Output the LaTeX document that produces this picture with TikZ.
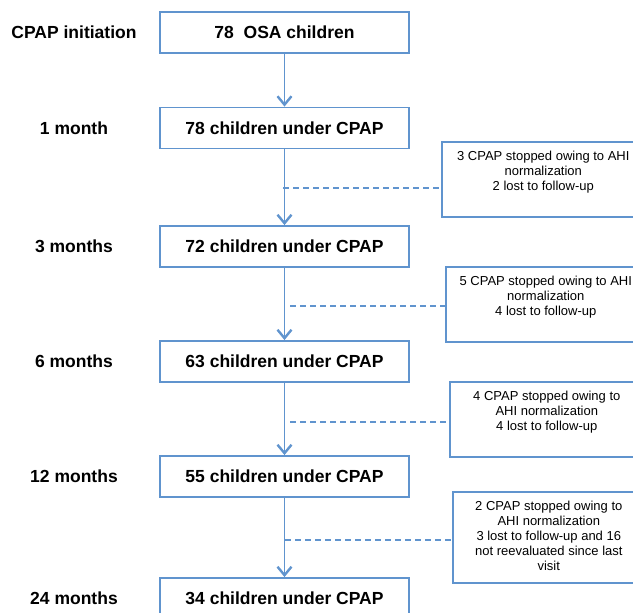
\documentclass[tikz,border=0pt]{standalone}
\usepackage{fontspec}
\setmainfont{Liberation Sans}
\usetikzlibrary{arrows.meta}
\definecolor{fblue}{RGB}{96,148,206}
\begin{document}
\begin{tikzpicture}[x=1pt,y=-1pt,
  mainbox/.style={draw=fblue,line width=1.8pt,minimum width=249pt,minimum height=41pt,inner sep=0pt,
    font=\fontsize{17.5}{20}\selectfont\bfseries},
  lbl/.style={font=\fontsize{17.5}{20}\selectfont\bfseries,inner sep=0pt},
  sidebox/.style={draw=fblue,line width=1.6pt,inner sep=0pt,anchor=north west,
    font=\fontsize{13}{15}\selectfont},
  flow/.style={draw=fblue,line width=1.8pt,-{Straight Barb[length=8.5pt,width=14pt,line width=2.4pt]}},
  dline/.style={draw=fblue,line width=1.5pt,dash pattern=on 6pt off 4pt}]
\useasboundingbox (0,0) rectangle (633,613);
\clip (0,0) rectangle (633,613);
% main boxes
\node[mainbox] (b1) at (284.5,32.5) {78\ \ OSA children};
\node[mainbox] (b2) at (284.5,128) {78 children under CPAP};
\node[mainbox] (b3) at (284.5,246.5) {72 children under CPAP};
\node[mainbox] (b4) at (284.5,361.5) {63 children under CPAP};
\node[mainbox] (b5) at (284.5,476.5) {55 children under CPAP};
\node[mainbox] (b6) at (284.5,598.5) {34 children under CPAP};
% left labels
\node[lbl] (l1) at (74,32.5) {CPAP initiation};
\node[lbl] (l2) at (74,128) {1 month};
\node[lbl] (l3) at (74,246.5) {3 months};
\node[lbl] (l4) at (74,361.5) {6 months};
\node[lbl] (l5) at (74,476.5) {12 months};
\node[lbl] (l6) at (74,598.5) {24 months};
% arrows
\draw[flow] (b1) -- (b2);
\draw[flow] (b2) -- (b3);
\draw[flow] (b3) -- (b4);
\draw[flow] (b4) -- (b5);
\draw[flow] (b5) -- (b6);
% side boxes
\node[sidebox] (sA) at (441,141) {\parbox[c][75pt][t]{203pt}{\centering\vspace*{9pt}3 CPAP stopped owing to AHI\\normalization\\2 lost to follow-up}};
\node[sidebox] (sB) at (445,266) {\parbox[c][75pt][t]{200pt}{\centering\vspace*{9pt}5 CPAP stopped owing to AHI\\normalization\\4 lost to follow-up}};
\node[sidebox] (sC) at (449,381) {\parbox[c][75pt][t]{194pt}{\centering\vspace*{9pt}4 CPAP stopped owing to\\AHI normalization\\4 lost to follow-up}};
\node[sidebox] (sD) at (452,491) {\parbox[c][91pt][t]{192pt}{\centering\vspace*{9pt}2 CPAP stopped owing to\\AHI normalization\\3 lost to follow-up and 16\\not reevaluated since last\\visit}};
% dashed connectors
\coordinate (dA) at (283,188);
\coordinate (dB) at (290,306);
\coordinate (dC) at (290,422);
\coordinate (dD) at (285,540);
\draw[dline] (dA) -- (dA -| sA.west);
\draw[dline] (dB) -- (dB -| sB.west);
\draw[dline] (dC) -- (dC -| sC.west);
\draw[dline] (dD) -- (dD -| sD.west);
\end{tikzpicture}
\end{document}
